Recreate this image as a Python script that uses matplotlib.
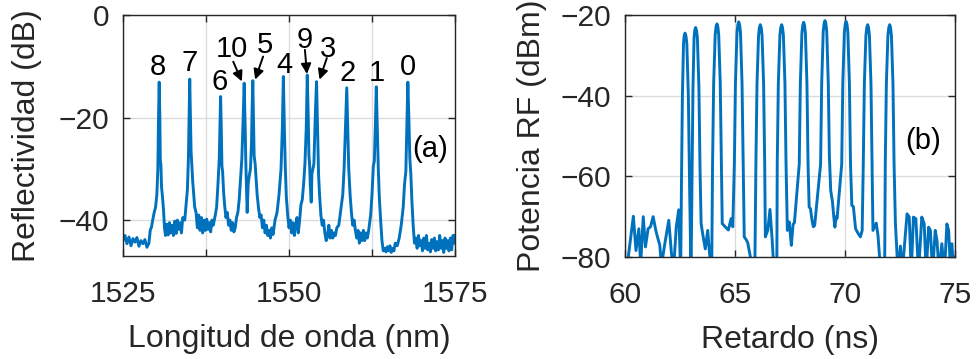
import numpy as np
import matplotlib.pyplot as plt

plt.rcParams['font.family'] = ['Liberation Sans', 'DejaVu Sans']

# (a) Reflection spectrum of the grating array
wl = [1525.0, 1525.3, 1525.6, 1525.9, 1526.2, 1526.5, 1526.8, 1527.1, 1527.4, 1527.7,
      1528.0, 1528.3, 1528.6, 1528.9, 1529.1, 1529.3, 1529.5, 1529.7, 1529.9, 1530.1,
      1530.25, 1530.35, 1530.45, 1530.55, 1530.62, 1530.7, 1530.8, 1530.95, 1531.1, 1531.25,
      1531.4, 1531.6, 1531.8, 1532.0, 1532.2, 1532.4, 1532.6, 1532.8, 1533.0, 1533.2,
      1533.4, 1533.6, 1533.8, 1534.0, 1534.3, 1534.5, 1534.7, 1534.85, 1534.95, 1535.05,
      1535.15, 1535.25, 1535.35, 1535.5, 1535.65, 1535.8, 1536.0, 1536.2, 1536.4, 1536.6,
      1536.8, 1537.0, 1537.2, 1537.4, 1537.6, 1537.8, 1538.0, 1538.2, 1538.4, 1538.6,
      1538.9, 1539.1, 1539.3, 1539.5, 1539.6, 1539.7, 1539.8, 1539.9, 1540.0, 1540.15,
      1540.3, 1540.5, 1540.7, 1540.9, 1541.1, 1541.3, 1541.5, 1541.7, 1541.9, 1542.1,
      1542.3, 1542.5, 1542.7, 1542.9, 1543.1, 1543.25, 1543.4, 1543.5, 1543.7, 1543.85,
      1544.0, 1544.2, 1544.35, 1544.45, 1544.55, 1544.65, 1544.75, 1544.9, 1545.05, 1545.2,
      1545.4, 1545.6, 1545.8, 1546.0, 1546.2, 1546.4, 1546.6, 1546.8, 1547.0, 1547.2,
      1547.4, 1547.6, 1547.9, 1548.2, 1548.5, 1548.8, 1549.0, 1549.15, 1549.3, 1549.45,
      1549.6, 1549.8, 1550.0, 1550.2, 1550.4, 1550.6, 1550.8, 1551.0, 1551.2, 1551.4,
      1551.6, 1551.8, 1552.0, 1552.2, 1552.4, 1552.6, 1552.75, 1552.9, 1553.0, 1553.1,
      1553.2, 1553.35, 1553.45, 1553.6, 1553.75, 1553.9, 1554.0, 1554.15, 1554.3, 1554.45,
      1554.6, 1554.8, 1555.0, 1555.2, 1555.4, 1555.6, 1555.8, 1556.0, 1556.2, 1556.4,
      1556.6, 1556.8, 1557.0, 1557.2, 1557.5, 1557.8, 1558.1, 1558.3, 1558.5, 1558.7,
      1558.85, 1559.0, 1559.2, 1559.4, 1559.6, 1559.8, 1560.0, 1560.2, 1560.4, 1560.6,
      1560.8, 1561.0, 1561.2, 1561.4, 1561.6, 1561.8, 1562.0, 1562.3, 1562.5, 1562.7,
      1562.85, 1563.0, 1563.15, 1563.3, 1563.45, 1563.6, 1563.8, 1564.0, 1564.2, 1564.4,
      1564.6, 1564.8, 1565.0, 1565.2, 1565.4, 1565.6, 1565.8, 1566.0, 1566.3, 1566.6,
      1566.9, 1567.2, 1567.4, 1567.6, 1567.75, 1567.9, 1568.05, 1568.2, 1568.35, 1568.5,
      1568.7, 1568.9, 1569.1, 1569.3, 1569.5, 1569.7, 1569.9, 1570.1, 1570.3, 1570.5,
      1570.7, 1570.9, 1571.1, 1571.3, 1571.5, 1571.7, 1571.9, 1572.1, 1572.3, 1572.5,
      1572.7, 1572.9, 1573.1, 1573.3, 1573.5, 1573.7, 1573.9, 1574.1, 1574.3, 1574.5,
      1574.7, 1574.9, 1575.0]
refl = [-44.0, -43.0, -44.6, -43.3, -45.0, -43.6, -44.3, -43.4, -45.1, -44.0,
        -44.6, -43.8, -45.3, -44.5, -42.0, -41.3, -39.8, -38.5, -37.5, -35.0,
        -30.0, -20.0, -13.1, -20.0, -28.5, -29.0, -33.5, -35.5, -38.0, -41.5,
        -43.0, -40.8, -42.9, -40.5, -42.5, -41.0, -43.0, -40.2, -42.6, -40.0,
        -41.8, -40.5, -42.5, -39.5, -40.0, -37.0, -34.0, -28.0, -20.0, -12.5,
        -20.0, -26.5, -29.0, -32.5, -35.0, -37.5, -38.5, -41.5, -39.0, -42.0,
        -39.5, -42.5, -40.0, -42.0, -39.8, -41.8, -40.5, -42.3, -40.0, -41.0,
        -39.0, -37.5, -33.0, -28.0, -22.0, -15.9, -22.0, -29.5, -30.5, -34.5,
        -37.0, -39.5, -38.5, -41.0, -40.0, -42.0, -40.5, -42.3, -41.5, -39.5,
        -38.5, -36.0, -32.0, -28.0, -20.0, -13.3, -22.0, -29.0, -38.5, -33.0,
        -31.5, -30.0, -25.0, -18.0, -12.8, -20.0, -27.5, -29.0, -32.0, -35.0,
        -37.5, -39.5, -39.0, -41.5, -40.0, -42.5, -41.0, -43.0, -42.0, -43.5,
        -41.5, -42.8, -40.0, -38.5, -35.0, -30.0, -22.0, -12.0, -22.0, -30.0,
        -35.5, -39.0, -41.5, -40.0, -42.5, -40.5, -43.0, -41.0, -39.5, -42.5,
        -40.0, -37.0, -36.0, -33.0, -29.0, -22.0, -11.7, -20.0, -27.5, -29.0,
        -33.0, -36.5, -31.0, -30.0, -29.0, -22.0, -18.0, -13.0, -22.0, -31.0,
        -35.0, -39.0, -41.0, -40.0, -42.5, -44.0, -43.0, -41.0, -43.5, -42.0,
        -43.5, -42.5, -43.0, -41.5, -41.0, -38.0, -35.0, -30.0, -22.0, -14.2,
        -22.0, -30.0, -35.0, -38.5, -41.0, -40.0, -42.0, -43.5, -42.0, -44.5,
        -42.5, -44.0, -42.0, -44.0, -42.5, -43.5, -42.0, -39.0, -35.0, -29.5,
        -28.5, -22.0, -14.0, -22.0, -30.0, -35.5, -40.0, -44.0, -46.0, -45.5,
        -46.2, -45.2, -46.0, -45.0, -46.3, -45.5, -46.0, -44.5, -45.0, -43.5,
        -41.0, -37.5, -33.0, -30.5, -22.0, -13.1, -20.0, -28.0, -31.0, -36.0,
        -41.0, -44.5, -43.5, -45.5, -43.0, -45.0, -44.0, -46.0, -43.5, -45.5,
        -43.0, -45.8, -44.5, -46.2, -43.8, -45.5, -43.5, -46.0, -44.2, -45.8,
        -43.0, -45.5, -44.0, -46.3, -43.5, -45.5, -44.0, -46.0, -43.5, -45.8,
        -43.0, -44.5, -43.0]

# grating labels and arrows in (a)
lbl_text = ['8', '7', '6', '10', '5', '4', '9', '3', '2', '1', '0']
lbl_x = [1530.3, 1535.1, 1539.6, 1541.4, 1546.3, 1549.3, 1552.4, 1555.9, 1558.8, 1563.2, 1567.9]
lbl_y = [-11.65, -11.0, -14.6, -8.1, -7.4, -11.3, -6.5, -8.1, -12.95, -12.95, -11.65]
arr_from = [(1541.6, -9.1), (1546.1, -8.1), (1552.4, -6.8), (1555.7, -8.4)]
arr_to = [(1542.9, -12.95), (1544.9, -12.6), (1552.7, -11.5), (1554.6, -12.6)]

# (b) RF power versus delay
t_ns = [60.05, 60.15, 60.38, 60.5, 60.63, 60.71, 60.83, 60.93, 61.05, 61.16,
        61.28, 61.4, 61.5, 61.58, 61.66, 61.81, 61.99, 62.11, 62.21, 62.33,
        62.44, 62.53,
        62.57, 62.61, 62.66, 62.69, 62.73, 62.77, 62.81, 62.88, 62.93, 63.0,
        63.05, 63.09, 63.14, 63.17, 63.21, 63.25, 63.29, 63.36, 63.41,
        63.46, 63.53, 63.65, 63.76, 63.83, 63.94,
        63.98, 64.03, 64.1, 64.14, 64.18, 64.22, 64.26, 64.33, 64.38,
        64.42, 64.55, 64.7, 64.82, 64.9,
        64.97, 65.02, 65.09, 65.13, 65.17, 65.21, 65.25, 65.32, 65.37,
        65.42, 65.52, 65.58, 65.7, 65.8, 65.9,
        65.95, 66.0, 66.07, 66.11, 66.15, 66.19, 66.23, 66.3, 66.35,
        66.38, 66.49, 66.59, 66.68, 66.78, 66.9,
        66.92, 66.97, 67.04, 67.08, 67.12, 67.16, 67.2, 67.27, 67.32,
        67.38, 67.46, 67.5, 67.56, 67.64, 67.7,
        67.92, 67.97, 68.04, 68.08, 68.12, 68.16, 68.2, 68.27, 68.32,
        68.37, 68.43, 68.5, 68.56, 68.62,
        68.89, 68.94, 69.01, 69.05, 69.09, 69.13, 69.17, 69.24, 69.29,
        69.35, 69.43, 69.5, 69.54, 69.6, 69.64,
        69.85, 69.9, 69.97, 70.01, 70.05, 70.09, 70.13, 70.2, 70.25,
        70.31, 70.38, 70.48, 70.6, 70.7, 70.78,
        70.83, 70.88, 70.95, 70.99, 71.03, 71.07, 71.11, 71.18, 71.23,
        71.27, 71.42, 71.5, 71.57, 71.65, 71.8,
        71.83, 71.88, 71.95, 71.99, 72.03, 72.07, 72.11, 72.18, 72.23,
        72.29, 72.41, 72.52, 72.6, 72.82, 72.92, 73.01, 73.11, 73.22, 73.34,
        73.49, 73.6, 73.69, 73.8, 73.88, 73.98, 74.1, 74.18, 74.28, 74.4,
        74.52, 74.63, 74.71, 74.8, 74.86, 74.94, 75.0]
rf_dbm = [-85.0, -80.0, -69.9, -78.4, -73.0, -82.0, -70.0, -77.5, -73.0, -72.5,
          -70.0, -73.4, -75.5, -77.0, -82.0, -76.7, -70.9, -79.0, -83.0, -72.6,
          -68.3, -84.0,
          -60.0, -40.0, -27.0, -25.2, -24.5, -25.2, -27.0, -40.0, -60.0, -85.0,
          -58.0, -38.0, -25.6, -23.8, -23.1, -23.8, -25.6, -38.0, -58.0,
          -71.7, -74.2, -78.0, -73.4, -78.4, -84.0,
          -57.0, -37.0, -24.9, -22.9, -22.2, -22.9, -24.9, -37.0, -57.0,
          -71.7, -72.5, -73.3, -70.5, -72.5,
          -57.0, -37.0, -24.4, -22.4, -21.7, -22.4, -24.4, -37.0, -57.0,
          -75.0, -75.8, -76.5, -80.0, -84.0, -84.0,
          -57.0, -37.0, -25.1, -23.1, -22.4, -23.1, -25.1, -37.0, -57.0,
          -75.0, -73.4, -68.2, -75.0, -84.0, -84.0,
          -57.0, -37.0, -25.1, -23.1, -22.4, -23.1, -25.1, -37.0, -57.0,
          -73.4, -71.3, -73.4, -77.1, -71.9, -71.5,
          -57.0, -37.0, -24.5, -22.5, -21.8, -22.5, -24.5, -37.0, -57.0,
          -67.6, -68.0, -70.9, -72.5, -72.2,
          -57.0, -37.0, -24.1, -22.1, -21.4, -22.1, -24.1, -37.0, -55.0,
          -63.5, -66.3, -70.6, -72.6, -70.0, -70.4,
          -57.0, -37.0, -24.3, -22.3, -21.6, -22.3, -24.3, -37.0, -57.0,
          -67.2, -67.5, -73.0, -74.2, -75.0, -73.4,
          -57.0, -37.0, -25.1, -23.1, -22.4, -23.1, -25.1, -37.0, -57.0,
          -73.4, -71.6, -74.7, -80.0, -85.0, -85.0,
          -57.0, -37.0, -25.1, -23.1, -22.4, -23.1, -25.1, -37.0, -57.0,
          -71.6, -84.0, -77.3, -84.0, -69.3, -70.1, -84.0, -70.1, -70.5, -84.0,
          -70.1, -71.8, -84.0, -72.6, -73.4, -84.0, -73.4, -75.9, -84.0, -76.7,
          -84.0, -71.8, -73.4, -84.0, -76.7, -84.0, -80.0]

line_col = '#0072BD'
grid_col = '#dcdcdc'
spine_col = '#262626'

fig = plt.figure(figsize=(9.77, 3.59), dpi=100)
ax1 = fig.add_axes([0.1259, 0.2869, 0.3398, 0.6713])
ax2 = fig.add_axes([0.6397, 0.2841, 0.3378, 0.6741])

for ax in (ax1, ax2):
    ax.grid(True, color=grid_col, linewidth=1.0)
    ax.set_axisbelow(True)
    ax.tick_params(direction='in', top=True, right=True, length=5, width=1,
                   color=spine_col, labelcolor=spine_col, labelsize=21.5, pad=10)
    ax.tick_params(axis='x', pad=17)
    for sp in ax.spines.values():
        sp.set_color(spine_col)
        sp.set_linewidth(1.0)

# panel (a)
ax1.plot(wl, refl, color=line_col, linewidth=2.1)
ax1.set_xlim(1525, 1575)
ax1.set_ylim(-47, 0)
ax1.set_xticks([1525, 1537.5, 1550, 1562.5, 1575])
ax1.set_xticklabels(['1525', '', '1550', '', '1575'])
ax1.set_yticks([-40, -20, 0])
ax1.set_xlabel('Longitud de onda (nm)', fontsize=23, color=spine_col, labelpad=12)
ax1.set_ylabel('Reflectividad (dB)', fontsize=23, color=spine_col, labelpad=12)
for s, x, y in zip(lbl_text, lbl_x, lbl_y):
    ax1.text(x, y, s, fontsize=21, ha='center', va='baseline')
for p0, p1 in zip(arr_from, arr_to):
    ax1.annotate('', xy=p1, xytext=p0,
                 arrowprops=dict(arrowstyle='-|>', color='black', lw=1.4,
                                 mutation_scale=15, shrinkA=0, shrinkB=0))
ax1.text(1571.2, -26.2, '(a)', fontsize=21, ha='center', va='center')

# panel (b)
ax2.plot(t_ns, rf_dbm, color=line_col, linewidth=2.1)
ax2.set_xlim(60, 75)
ax2.set_ylim(-80, -20)
ax2.set_xticks([60, 65, 70, 75])
ax2.set_yticks([-80, -60, -40, -20])
ax2.set_xlabel('Retardo (ns)', fontsize=23, color=spine_col, labelpad=12)
ax2.set_ylabel('Potencia RF (dBm)', fontsize=23, color=spine_col, labelpad=10)
ax2.text(73.57, -51.3, '(b)', fontsize=21, ha='center', va='center')

fig.savefig('out.png', dpi=100)
